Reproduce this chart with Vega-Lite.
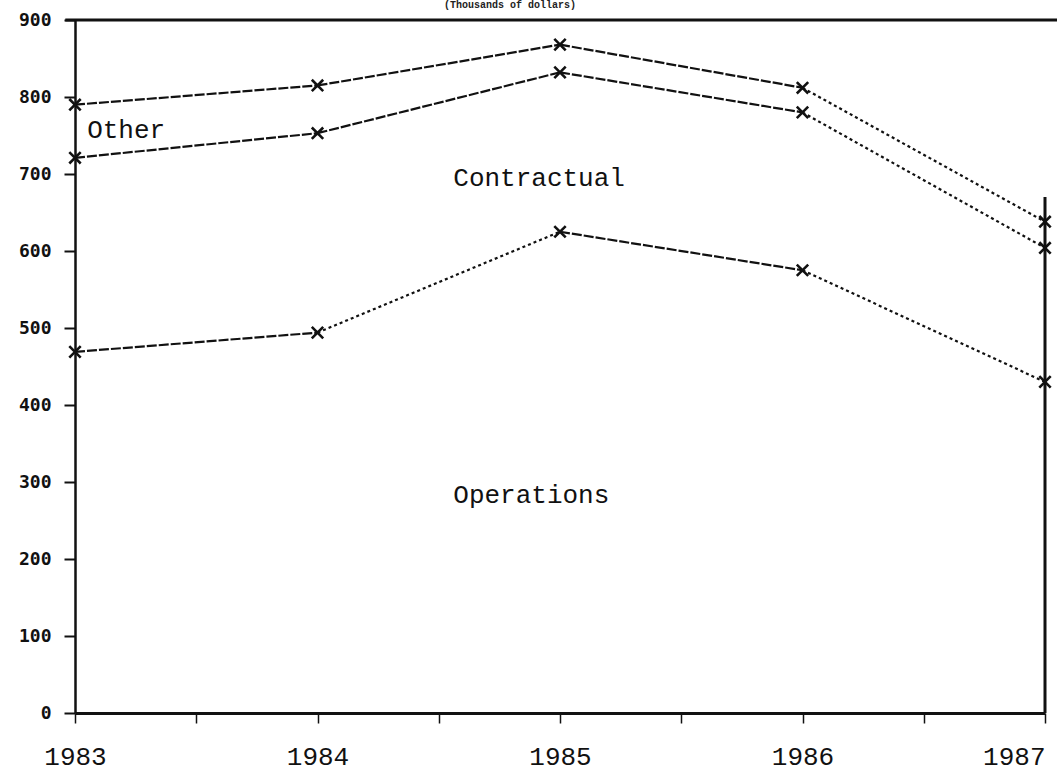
{
  "$schema": "https://vega.github.io/schema/vega-lite/v6.json",
  "autosize": "none",
  "width": 970,
  "height": 693,
  "padding": {"left": 75, "top": 20, "right": 12, "bottom": 60},
  "background": "white",
  "config": {
    "view": {"stroke": null},
    "font": "Liberation Mono"
  },
  "title": {
    "text": "(Thousands of dollars)",
    "fontSize": 10,
    "fontWeight": "bold",
    "font": "Liberation Mono",
    "color": "#222",
    "anchor": "middle",
    "dx": -50,
    "offset": 1
  },
  "datasets": {
    "points": [
      {"year": 1983, "series": "Other", "value": 790},
      {"year": 1984, "series": "Other", "value": 815},
      {"year": 1985, "series": "Other", "value": 868},
      {"year": 1986, "series": "Other", "value": 812},
      {"year": 1987, "series": "Other", "value": 638},
      {"year": 1983, "series": "Contractual", "value": 721},
      {"year": 1984, "series": "Contractual", "value": 753},
      {"year": 1985, "series": "Contractual", "value": 832},
      {"year": 1986, "series": "Contractual", "value": 780},
      {"year": 1987, "series": "Contractual", "value": 604},
      {"year": 1983, "series": "Operations", "value": 469},
      {"year": 1984, "series": "Operations", "value": 494},
      {"year": 1985, "series": "Operations", "value": 625},
      {"year": 1986, "series": "Operations", "value": 575},
      {"year": 1987, "series": "Operations", "value": 430}
    ],
    "segments": [
      {"series": "Other", "x1": 1983, "y1": 790, "x2": 1984, "y2": 815, "style": "dash"},
      {"series": "Other", "x1": 1984, "y1": 815, "x2": 1985, "y2": 868, "style": "dash"},
      {"series": "Other", "x1": 1985, "y1": 868, "x2": 1986, "y2": 812, "style": "dash"},
      {"series": "Other", "x1": 1986, "y1": 812, "x2": 1987, "y2": 638, "style": "dot"},
      {"series": "Contractual", "x1": 1983, "y1": 721, "x2": 1984, "y2": 753, "style": "dash"},
      {"series": "Contractual", "x1": 1984, "y1": 753, "x2": 1985, "y2": 832, "style": "dash"},
      {"series": "Contractual", "x1": 1985, "y1": 832, "x2": 1986, "y2": 780, "style": "dash"},
      {"series": "Contractual", "x1": 1986, "y1": 780, "x2": 1987, "y2": 604, "style": "dot"},
      {"series": "Operations", "x1": 1983, "y1": 469, "x2": 1984, "y2": 494, "style": "dash"},
      {"series": "Operations", "x1": 1984, "y1": 494, "x2": 1985, "y2": 625, "style": "dot"},
      {"series": "Operations", "x1": 1985, "y1": 625, "x2": 1986, "y2": 575, "style": "dash"},
      {"series": "Operations", "x1": 1986, "y1": 575, "x2": 1987, "y2": 430, "style": "dot"}
    ],
    "labels": [
      {"x": 1983.05, "y": 757, "text": "Other"},
      {"x": 1984.56, "y": 695, "text": "Contractual"},
      {"x": 1984.56, "y": 283, "text": "Operations"}
    ],
    "frame": [
      {"x": 1982.96, "x2": 1987.05, "y": 900, "y2": 900},
      {"x": 1987, "x2": 1987, "y": 0, "y2": 670}
    ]
  },
  "layer": [
    {
      "data": {"name": "segments"},
      "mark": {"type": "rule", "color": "#111", "strokeWidth": 2.2},
      "encoding": {
        "x": {
          "field": "x1", "type": "quantitative",
          "scale": {"domain": [1983, 1987], "nice": false, "zero": false},
          "axis": {
            "title": null,
            "values": [1983, 1983.5, 1984, 1984.5, 1985, 1985.5, 1986, 1986.5, 1987],
            "labelExpr": "datum.value % 1 === 0 ? datum.value : ''",
            "labelAlign": {"expr": "datum.value === 1987 ? 'right' : 'center'"},
            "grid": false,
            "domainColor": "#111",
            "domainWidth": 3,
            "tickColor": "#111",
            "tickWidth": 1.5,
            "tickSize": 10,
            "labelFontSize": 26,
            "labelFont": "Liberation Mono",
            "labelColor": "#111",
            "labelPadding": 20,
            "labelFlush": false,
            "labelOverlap": false
          }
        },
        "x2": {"field": "x2"},
        "y": {
          "field": "y1", "type": "quantitative",
          "scale": {"domain": [0, 900], "nice": false},
          "axis": {
            "title": null,
            "values": [0, 100, 200, 300, 400, 500, 600, 700, 800, 900],
            "grid": false,
            "domainColor": "#111",
            "domainWidth": 2.5,
            "tickColor": "#111",
            "tickWidth": 2,
            "tickSize": 11,
            "labelFontSize": 18,
            "labelFontWeight": "bold",
            "labelFont": "DejaVu Sans Mono",
            "labelColor": "#111",
            "labelPadding": 13
          }
        },
        "y2": {"field": "y2"},
        "strokeDash": {
          "field": "style", "type": "nominal",
          "scale": {"domain": ["dash", "dot"], "range": [[10, 2], [3, 3]]},
          "legend": null
        },
        "detail": {"field": "series"}
      }
    },
    {
      "data": {"name": "frame"},
      "mark": {"type": "rule", "color": "#111", "strokeWidth": 3},
      "encoding": {
        "x": {"field": "x", "type": "quantitative"},
        "x2": {"field": "x2"},
        "y": {"field": "y", "type": "quantitative"},
        "y2": {"field": "y2"}
      }
    },
    {
      "data": {"name": "points"},
      "mark": {
        "type": "point",
        "shape": "M-1,-1L1,1M-1,1L1,-1",
        "size": 130,
        "stroke": "#111",
        "strokeWidth": 2.6,
        "filled": false,
        "opacity": 1
      },
      "encoding": {
        "x": {"field": "year", "type": "quantitative"},
        "y": {"field": "value", "type": "quantitative"}
      }
    },
    {
      "data": {"name": "labels"},
      "mark": {"type": "text", "align": "left", "baseline": "middle", "font": "Liberation Mono", "fontSize": 26, "color": "#111"},
      "encoding": {
        "x": {"field": "x", "type": "quantitative"},
        "y": {"field": "y", "type": "quantitative"},
        "text": {"field": "text"}
      }
    }
  ]
}
